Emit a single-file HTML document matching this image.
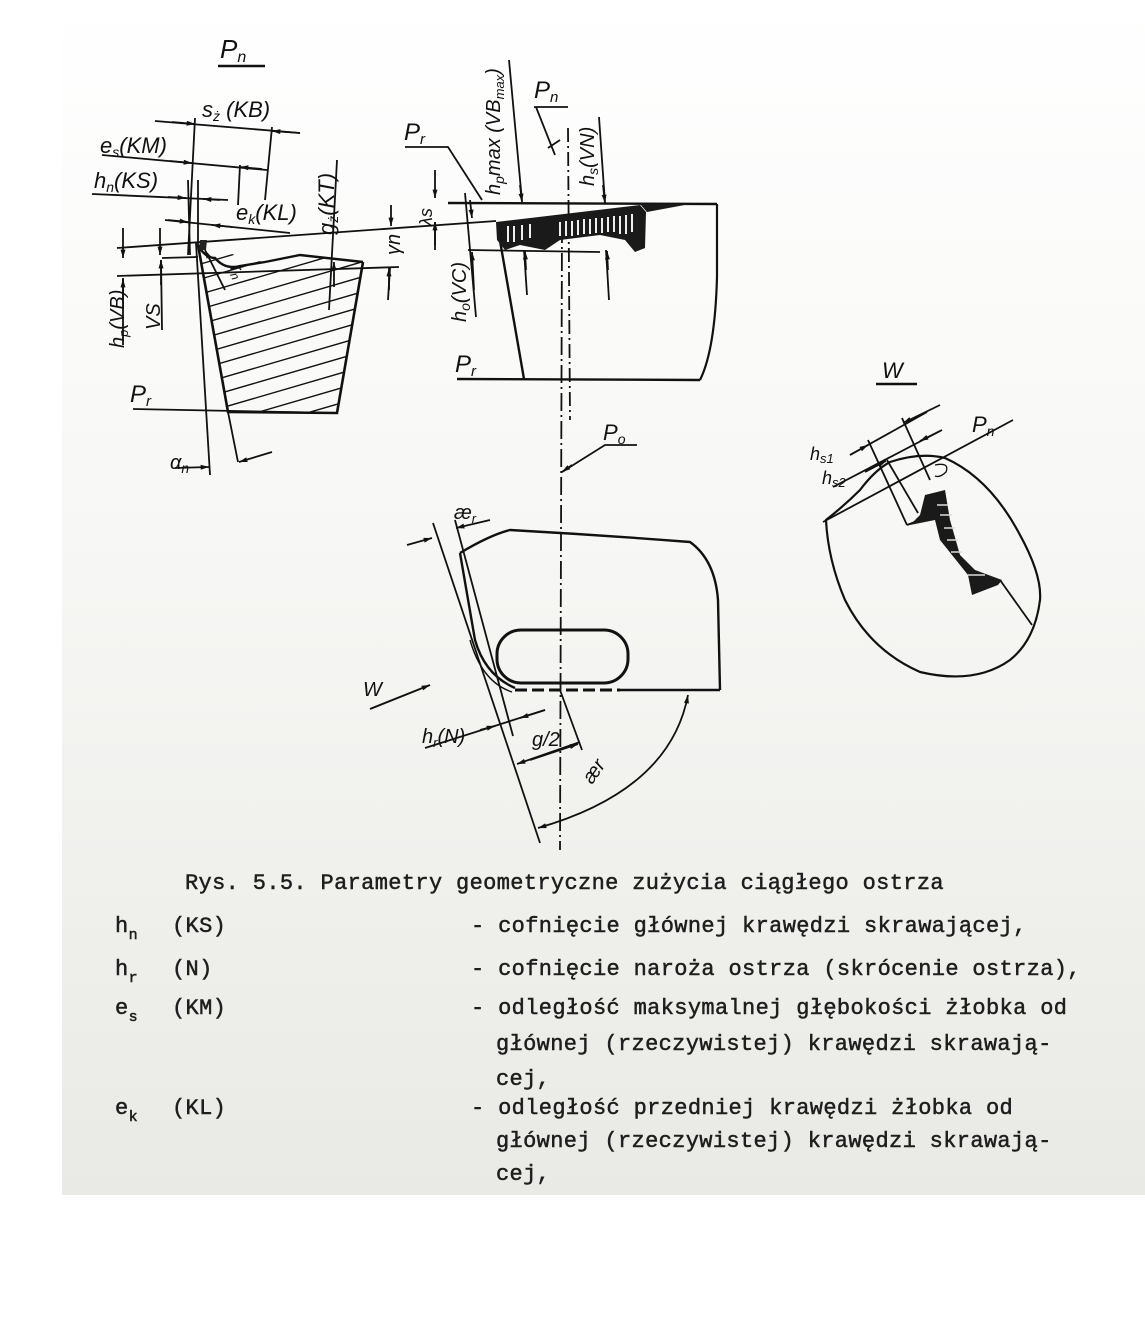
<!DOCTYPE html>
<html><head><meta charset="utf-8"><style>
html,body{margin:0;padding:0;background:#fff;}
svg{display:block;}
.l{font-family:"Liberation Sans",sans-serif;font-style:italic;fill:#111;}
.m{font-family:"Liberation Mono","DejaVu Sans Mono",monospace;fill:#1e1e1e;font-size:22px;letter-spacing:0.35px;stroke:#1e1e1e;stroke-width:0.5;}
</style></head><body>
<svg width="1145" height="1320" viewBox="0 0 1145 1320" xmlns="http://www.w3.org/2000/svg">
<defs>
<linearGradient id="bg" x1="0" y1="0" x2="0" y2="1">
<stop offset="0" stop-color="#ffffff"/><stop offset="0.45" stop-color="#f7f7f5"/><stop offset="1" stop-color="#e9e9e5"/>
</linearGradient>
<marker id="a" viewBox="0 0 10 6" refX="10" refY="3" markerWidth="12" markerHeight="5" orient="auto-start-reverse" markerUnits="userSpaceOnUse"><path d="M0,0L10,3L0,6z" fill="#111"/></marker>
<clipPath id="hc"><path d="M198,245 L228,412 L337,413 L363,262 L340,258 L300,255 L265,262 L240,258 L215,245 Z"/></clipPath>
</defs>
<rect x="62" y="0" width="1083" height="1195" fill="url(#bg)"/>
<g stroke="#111" stroke-width="1.8" fill="none">
<line x1="218" y1="66" x2="265" y2="66" stroke-width="2.5"/>
<line x1="155" y1="121" x2="300" y2="133"/>
<path d="M172,122 L195,124" marker-end="url(#a)"/><path d="M300,133 L272,131" marker-end="url(#a)"/>
<line x1="195" y1="118" x2="188" y2="255"/>
<line x1="272" y1="127" x2="265" y2="200"/>
<line x1="102" y1="155" x2="267" y2="170"/>
<path d="M170,161 L192,163" marker-end="url(#a)"/><path d="M262,169 L240,167" marker-end="url(#a)"/>
<line x1="240" y1="165" x2="238" y2="205"/>
<line x1="92" y1="194" x2="228" y2="200"/>
<path d="M168,197 L186,198" marker-end="url(#a)"/><path d="M220,200 L203,199" marker-end="url(#a)"/>
<line x1="188" y1="180" x2="190" y2="255"/><line x1="198" y1="180" x2="198" y2="245"/>
<line x1="165" y1="220" x2="290" y2="233"/>
<path d="M168,220 L188,222" marker-end="url(#a)"/><path d="M232,227 L212,225" marker-end="url(#a)"/>
<line x1="337" y1="160" x2="329" y2="310"/>
<path d="M334,262 L334,287" marker-start="url(#a)"/>
<line x1="117" y1="248" x2="496" y2="221"/>
<line x1="117" y1="276" x2="399" y2="267"/>
<line x1="162" y1="258" x2="198" y2="257"/>
<line x1="123" y1="228" x2="123" y2="258" marker-end="url(#a)"/><line x1="123" y1="278" x2="123" y2="345"/><path d="M123,300 L123,279" marker-end="url(#a)"/>
<line x1="160" y1="228" x2="160" y2="255" marker-end="url(#a)"/><line x1="161" y1="260" x2="162" y2="330"/><path d="M161,285 L161,260" marker-end="url(#a)"/>
<line x1="391" y1="205" x2="391" y2="226" marker-end="url(#a)"/><line x1="390" y1="268" x2="388" y2="300"/><path d="M389,290 L389,268" marker-end="url(#a)"/>
<path d="M198,245 L228,412 L337,413 L363,262" stroke-width="2.6"/>
<path d="M198,245 Q205,258 215,258 Q225,270 240,266 L265,262 L300,255 L363,262" stroke-width="2.4"/>
<g clip-path="url(#hc)" stroke-width="1.4">
<path d="M180,270 L420,200 M180,285 L420,215 M180,300 L420,230 M180,315 L420,245 M180,330 L420,260 M180,345 L420,275 M180,360 L420,290 M180,375 L420,305 M180,390 L420,320 M180,405 L420,335 M180,420 L420,350 M180,435 L420,365 M180,450 L420,380 M180,465 L420,395 M180,480 L420,410"/>
</g>
<path d="M205,250 L225,290" marker-start="url(#a)"/>
<line x1="133" y1="409" x2="337" y2="413"/>
<line x1="196" y1="243" x2="210" y2="475"/>
<line x1="228" y1="412" x2="238" y2="462"/>
<path d="M175,468 L209,467" marker-end="url(#a)"/><path d="M272,452 L239,462" marker-end="url(#a)"/>
<line x1="448" y1="203" x2="717" y2="204" stroke-width="2.4"/>
<path d="M717,204 L717,277 Q715,350 700,380" stroke-width="2.2"/>
<line x1="457" y1="379" x2="700" y2="380" stroke-width="2.4"/>
<line x1="499" y1="235" x2="524" y2="379" stroke-width="2.4"/>
<path d="M405,147 L448,147 L482,200"/>
<line x1="509" y1="60" x2="522" y2="201"/><path d="M520,185 L522,202" marker-end="url(#a)"/>
<path d="M534,107 L568,107 M536,107 L555,155 M548,148 L560,140"/>
<line x1="599" y1="117" x2="605" y2="203"/><path d="M603,185 L605,203" marker-end="url(#a)"/>
<line x1="606" y1="250" x2="609" y2="300"/><path d="M608,270 L607,251" marker-end="url(#a)"/>
<line x1="524" y1="250" x2="527" y2="295"/><path d="M526,270 L525,251" marker-end="url(#a)"/>
<line x1="468" y1="250" x2="600" y2="252"/>
<line x1="435" y1="170" x2="435" y2="198" marker-end="url(#a)"/><path d="M435,245 L435,222" marker-end="url(#a)"/><line x1="435" y1="222" x2="435" y2="250"/>
<line x1="465" y1="193" x2="476" y2="317"/><path d="M470,200 L472,218" marker-end="url(#a)"/><path d="M474,290 L472,252" marker-end="url(#a)"/>
<line x1="568" y1="128" x2="570" y2="420" stroke-dasharray="14,4,2,4"/>
<line x1="562" y1="225" x2="560" y2="850" stroke-dasharray="18,4,2,4"/>
<path d="M637,445 L605,445 L562,472"/><path d="M572,465 L562,472" marker-end="url(#a)"/>
<path d="M460,553 Q490,535 510,530 Q600,535 690,542 Q715,560 718,600 L720,690" stroke-width="2.4"/>
<path d="M460,553 L475,640 Q485,675 515,688" stroke-width="2.4"/>
<path d="M470,640 Q482,682 512,692" stroke-width="1.4"/>
<line x1="620" y1="690" x2="720" y2="690" stroke-width="2.6"/>
<line x1="515" y1="690" x2="620" y2="690" stroke-width="3" stroke-dasharray="12,5"/>
<rect x="497" y="630" width="131" height="53" rx="24" stroke-width="3"/>
<line x1="433" y1="523" x2="540" y2="843"/>
<line x1="455" y1="520" x2="513" y2="736"/>
<path d="M407,545 L432,538" marker-end="url(#a)"/><path d="M490,520 L456,528" marker-end="url(#a)"/>
<line x1="560" y1="690" x2="582" y2="750"/>
<path d="M580,742 L517,764" marker-end="url(#a)"/><path d="M530,760 L578,744" marker-end="url(#a)"/>
<line x1="425" y1="748" x2="545" y2="710"/>
<path d="M480,730 L495,726" marker-end="url(#a)"/><path d="M545,710 L520,718" marker-end="url(#a)"/>
<path d="M688,695 Q670,790 538,828" marker-end="url(#a)" marker-start="url(#a)"/>
<path d="M370,709 L430,685" marker-end="url(#a)" stroke-width="2"/>
<line x1="876" y1="384" x2="917" y2="384" stroke-width="2.5"/>
<path d="M826,520 Q845,505 860,490 Q875,470 890,462 Q920,452 945,458 Q990,478 1020,535 Q1042,575 1040,600 Q1035,640 1010,660 Q975,685 920,672 Q870,650 845,600 Q828,560 826,520 Z" stroke-width="2.2"/>
<path d="M935,465 Q950,462 946,472 Q940,478 935,476" stroke-width="1.3"/>
<line x1="823" y1="522" x2="1013" y2="420"/>
<line x1="850" y1="455" x2="927" y2="412"/>
<path d="M850,455 L868,445" marker-end="url(#a)"/><path d="M940,405 L903,423" marker-end="url(#a)"/>
<line x1="833" y1="487" x2="942" y2="430"/>
<path d="M865,472 L886,461" marker-end="url(#a)"/><path d="M940,431 L920,441" marker-end="url(#a)"/>
<line x1="902" y1="418" x2="930" y2="480"/>
<line x1="868" y1="440" x2="907" y2="525"/>
<line x1="887" y1="460" x2="918" y2="513"/>
<line x1="907" y1="525" x2="920" y2="520"/>
<line x1="1000" y1="580" x2="1032" y2="625"/>
</g>
<path d="M496,222 L640,205 L646,212 L645,248 L635,252 L625,240 L600,235 L560,240 L545,250 L520,245 L505,250 L497,240 Z" fill="#1a1a1a"/>
<path d="M640,204 L690,204 L647,212 Z" fill="#1a1a1a"/>
<g stroke="#eee" stroke-width="2">
<path d="M508,226 V242 M514,226 V242 M522,225 V240 M530,224 V238 M560,222 V236 M566,221 V236 M572,221 V236 M578,220 V235 M584,219 V234 M590,219 V234 M596,218 V233 M602,218 V233 M608,217 V232 M614,216 V232 M620,216 V234 M626,215 V234 M632,214 V232"/>
</g>
<path d="M200,240 L207,240 L206,250 L199,250Z" fill="#222"/>
<path d="M925,495 L945,490 L950,520 L960,555 L975,570 L1002,580 L998,585 L972,595 L968,575 L940,540 L935,520 L910,525 L920,515 Z" fill="#1a1a1a"/>
<g stroke="#ddd" stroke-width="1.5"><path d="M937,505 H948 M940,515 H952 M944,528 H955 M947,540 H958 M951,552 H962 M968,575 H985"/></g>
<text class="l" x="220" y="58" font-size="26">P<tspan font-size="16" dy="4">n</tspan></text>
<text class="l" x="202" y="117" font-size="22">s<tspan font-size="14" dy="4">ż</tspan><tspan dy="-4"> (KB)</tspan></text>
<text class="l" x="100" y="153" font-size="22">e<tspan font-size="14" dy="4">s</tspan><tspan dy="-4">(KM)</tspan></text>
<text class="l" x="94" y="188" font-size="22">h<tspan font-size="14" dy="4">n</tspan><tspan dy="-4">(KS)</tspan></text>
<text class="l" x="236" y="220" font-size="22">e<tspan font-size="14" dy="4">k</tspan><tspan dy="-4">(KL)</tspan></text>
<text class="l" font-size="22" transform="translate(334,235) rotate(-90)">g<tspan font-size="14" dy="4">ż</tspan><tspan dy="-4">(KT)</tspan></text>
<text class="l" font-size="20" transform="translate(400,255) rotate(-90)">γn</text>
<text class="l" font-size="20" transform="translate(124,348) rotate(-90)">h<tspan font-size="13" dy="4">p</tspan><tspan dy="-4">(VB)</tspan></text>
<text class="l" font-size="20" transform="translate(160,330) rotate(-90)">VS</text>
<text class="l" font-size="18" transform="translate(230,268) rotate(65)">r<tspan font-size="12" dy="3">n</tspan></text>
<text class="l" x="130" y="402" font-size="24">P<tspan font-size="15" dy="4">r</tspan></text>
<text class="l" x="170" y="469" font-size="20">α<tspan font-size="14" dy="4">n</tspan></text>
<text class="l" x="404" y="140" font-size="24">P<tspan font-size="15" dy="4">r</tspan></text>
<text class="l" font-size="20" transform="translate(500,195) rotate(-90)">h<tspan font-size="14" dy="4">p</tspan><tspan dy="-4">max (VB</tspan><tspan font-size="13" dy="4">max</tspan><tspan dy="-4">)</tspan></text>
<text class="l" x="534" y="98" font-size="24">P<tspan font-size="15" dy="4">n</tspan></text>
<text class="l" font-size="20" transform="translate(594,186) rotate(-90)">h<tspan font-size="14" dy="4">s</tspan><tspan dy="-4">(VN)</tspan></text>
<text class="l" font-size="18" transform="translate(432,226) rotate(-90)">λs</text>
<text class="l" font-size="20" transform="translate(466,322) rotate(-90)">h<tspan font-size="14" dy="4">o</tspan><tspan dy="-4">(VC)</tspan></text>
<text class="l" x="455" y="372" font-size="24">P<tspan font-size="15" dy="4">r</tspan></text>
<text class="l" x="603" y="440" font-size="22">P<tspan font-size="14" dy="4">o</tspan></text>
<text class="l" x="454" y="519" font-size="20">æ<tspan font-size="13" dy="4">r</tspan></text>
<text class="l" x="363" y="696" font-size="20">W</text>
<text class="l" x="422" y="743" font-size="20">h<tspan font-size="13" dy="4">r</tspan><tspan dy="-4">(N)</tspan></text>
<text class="l" x="532" y="746" font-size="20">g/2</text>
<text class="l" font-size="20" transform="translate(592,785) rotate(-55)">ær</text>
<text class="l" x="882" y="378" font-size="22">W</text>
<text class="l" x="972" y="432" font-size="22">P<tspan font-size="14" dy="4">n</tspan></text>
<text class="l" x="810" y="460" font-size="18">h<tspan font-size="13" dy="3">s1</tspan></text>
<text class="l" x="822" y="484" font-size="18">h<tspan font-size="13" dy="3">s2</tspan></text>
<text class="m" x="185" y="889">Rys. 5.5. Parametry geometryczne zużycia  ciągłego ostrza</text>
<text class="m" x="115" y="932">h<tspan font-size="15" dy="7">n</tspan></text><text class="m" x="172" y="932">(KS)</text>
<text class="m" x="471" y="932">- cofnięcie głównej krawędzi skrawającej,</text>
<text class="m" x="115" y="975">h<tspan font-size="15" dy="7">r</tspan></text><text class="m" x="172" y="975">(N)</text>
<text class="m" x="471" y="975">- cofnięcie naroża ostrza (skrócenie ostrza),</text>
<text class="m" x="115" y="1014">e<tspan font-size="15" dy="7">s</tspan></text><text class="m" x="172" y="1014">(KM)</text>
<text class="m" x="471" y="1014">- odległość maksymalnej głębokości żłobka od</text>
<text class="m" x="496" y="1050">głównej (rzeczywistej) krawędzi  skrawają-</text>
<text class="m" x="496" y="1085">cej,</text>
<text class="m" x="115" y="1114">e<tspan font-size="15" dy="7">k</tspan></text><text class="m" x="172" y="1114">(KL)</text>
<text class="m" x="471" y="1114">- odległość przedniej krawędzi żłobka     od</text>
<text class="m" x="496" y="1147">głównej (rzeczywistej) krawędzi  skrawają-</text>
<text class="m" x="496" y="1180">cej,</text>
</svg>
</body></html>
